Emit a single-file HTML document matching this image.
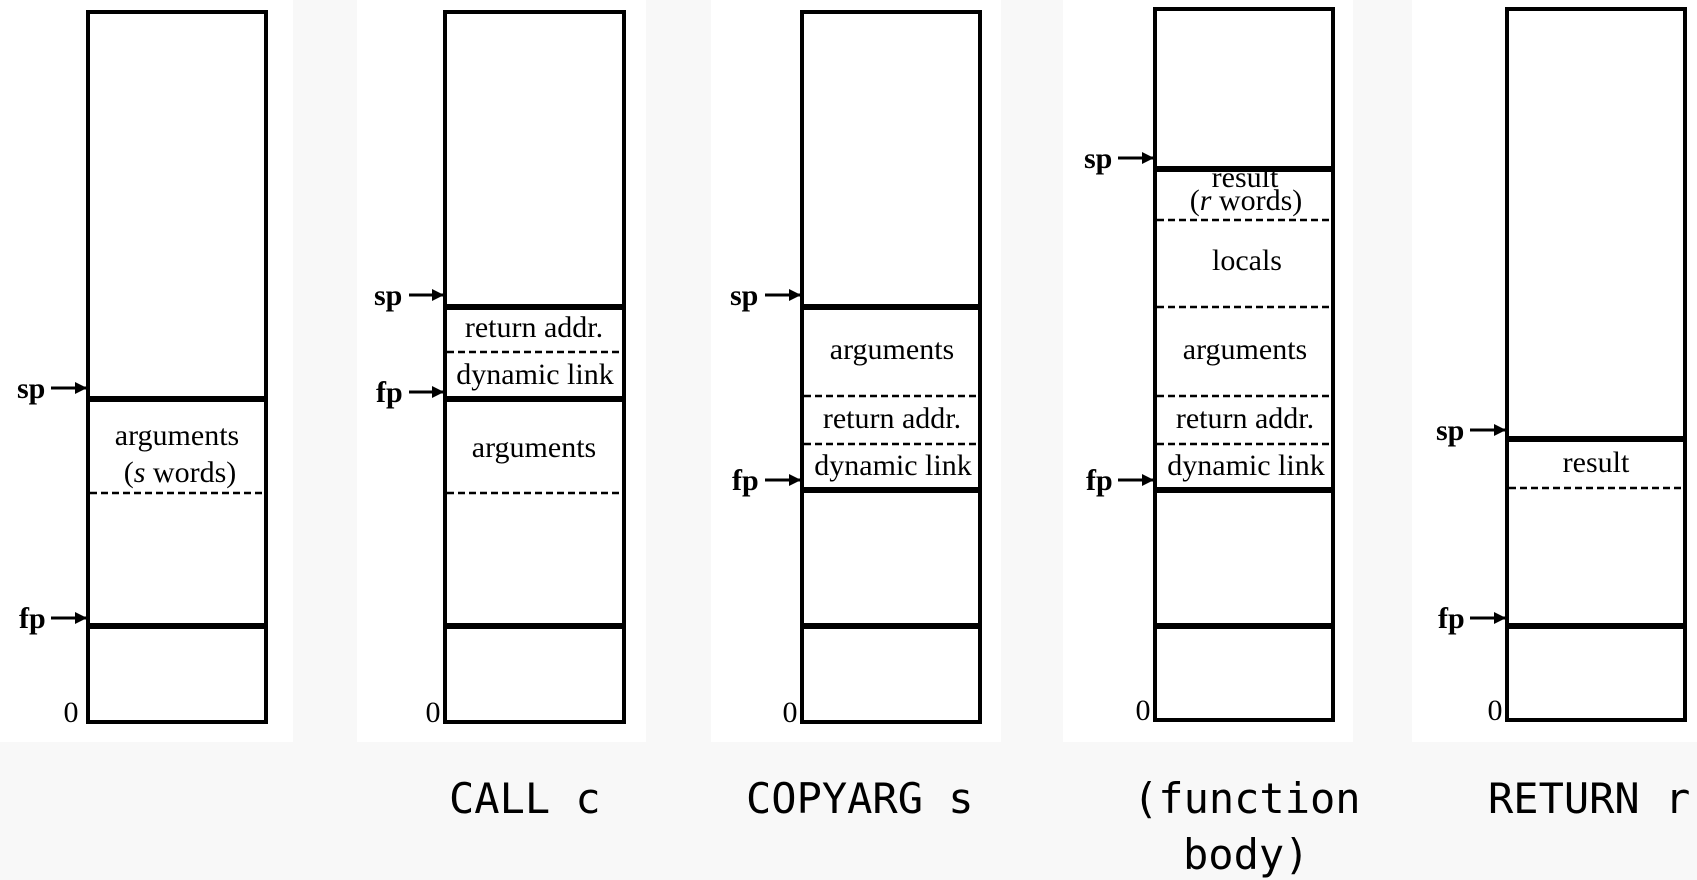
<!DOCTYPE html>
<html><head><meta charset="utf-8"><style>
html,body{margin:0;padding:0;background:#f8f8f8;}
svg{display:block}
.s{font-family:"Liberation Serif",serif;font-size:30px;fill:#000;text-anchor:middle}
.b{font-family:"Liberation Serif",serif;font-size:30px;font-weight:bold;fill:#000}
.m{font-family:"DejaVu Sans Mono","Liberation Mono",monospace;font-size:42px;fill:#000}
</style></head><body>
<svg width="1697" height="880" viewBox="0 0 1697 880" xmlns="http://www.w3.org/2000/svg">
<defs><marker id="a" markerWidth="12" markerHeight="12" refX="11" refY="6" orient="auto" markerUnits="userSpaceOnUse"><path d="M0,0 L12,6 L0,12 z" fill="#000"/></marker></defs>
<rect x="0" y="0" width="293" height="742" fill="#fff"/>
<rect x="357" y="0" width="289" height="742" fill="#fff"/>
<rect x="711" y="0" width="290" height="742" fill="#fff"/>
<rect x="1063" y="0" width="290" height="742" fill="#fff"/>
<rect x="1412" y="0" width="285" height="742" fill="#fff"/>
<g stroke="#000" fill="none">
<rect x="88" y="12" width="178" height="710" stroke-width="4"/>
<rect x="445" y="12" width="179" height="710" stroke-width="4"/>
<rect x="802" y="12" width="178" height="710" stroke-width="4"/>
<rect x="1155" y="9" width="178" height="711" stroke-width="4"/>
<rect x="1507" y="9" width="178" height="711" stroke-width="4"/>
<g stroke-width="6">
<line x1="88" y1="399" x2="266" y2="399"/><line x1="88" y1="626" x2="266" y2="626"/>
<line x1="445" y1="307" x2="624" y2="307"/><line x1="445" y1="399" x2="624" y2="399"/><line x1="445" y1="626" x2="624" y2="626"/>
<line x1="802" y1="307" x2="980" y2="307"/><line x1="802" y1="490" x2="980" y2="490"/><line x1="802" y1="626" x2="980" y2="626"/>
<line x1="1155" y1="169" x2="1333" y2="169"/><line x1="1155" y1="490" x2="1333" y2="490"/><line x1="1155" y1="626" x2="1333" y2="626"/>
<line x1="1507" y1="439" x2="1685" y2="439"/><line x1="1507" y1="626" x2="1685" y2="626"/>
</g>
<g stroke-width="2.4" stroke-dasharray="7,4">
<line x1="90" y1="493" x2="264" y2="493"/>
<line x1="447" y1="352" x2="622" y2="352"/><line x1="447" y1="493" x2="622" y2="493"/>
<line x1="804" y1="396" x2="978" y2="396"/><line x1="804" y1="444" x2="978" y2="444"/>
<line x1="1157" y1="220" x2="1331" y2="220"/><line x1="1157" y1="307" x2="1331" y2="307"/><line x1="1157" y1="396" x2="1331" y2="396"/><line x1="1157" y1="444" x2="1331" y2="444"/>
<line x1="1509" y1="488" x2="1683" y2="488"/>
</g>
<g stroke-width="3" marker-end="url(#a)">
<line x1="51" y1="388" x2="86" y2="388"/><line x1="51" y1="618" x2="86" y2="618"/>
<line x1="409" y1="295" x2="443" y2="295"/><line x1="409" y1="392" x2="443" y2="392"/>
<line x1="765" y1="295" x2="800" y2="295"/><line x1="765" y1="480" x2="800" y2="480"/>
<line x1="1118" y1="158" x2="1153" y2="158"/><line x1="1118" y1="480" x2="1153" y2="480"/>
<line x1="1470" y1="430" x2="1505" y2="430"/><line x1="1470" y1="618" x2="1505" y2="618"/>
</g>
</g>
<g class="b">
<text x="17" y="398">sp</text><text x="19" y="628">fp</text>
<text x="374" y="305">sp</text><text x="376" y="402">fp</text>
<text x="730" y="305">sp</text><text x="732" y="490">fp</text>
<text x="1084" y="168">sp</text><text x="1086" y="490">fp</text>
<text x="1436" y="440">sp</text><text x="1438" y="628">fp</text>
</g>
<g class="s">
<text x="71" y="722">0</text><text x="433" y="722">0</text><text x="790" y="722">0</text><text x="1143" y="720">0</text><text x="1495" y="720">0</text>
<text x="177" y="445">arguments</text><text x="180" y="482">(<tspan font-style="italic">s</tspan> words)</text>
<text x="534" y="337">return addr.</text><text x="535" y="384">dynamic link</text><text x="534" y="457">arguments</text>
<text x="892" y="359">arguments</text><text x="892" y="428">return addr.</text><text x="893" y="475">dynamic link</text>
<text x="1245" y="187">result</text><text x="1246" y="210">(<tspan font-style="italic">r</tspan> words)</text>
<text x="1247" y="270">locals</text><text x="1245" y="359">arguments</text><text x="1245" y="428">return addr.</text><text x="1246" y="475">dynamic link</text>
<text x="1596" y="472">result</text>
</g>
<g class="m">
<text x="449" y="813">CALL c</text>
<text x="746" y="813">COPYARG s</text>
<text x="1133" y="813">(function</text>
<text x="1183" y="869">body)</text>
<text x="1488" y="813">RETURN r</text>
</g>
</svg>
</body></html>
